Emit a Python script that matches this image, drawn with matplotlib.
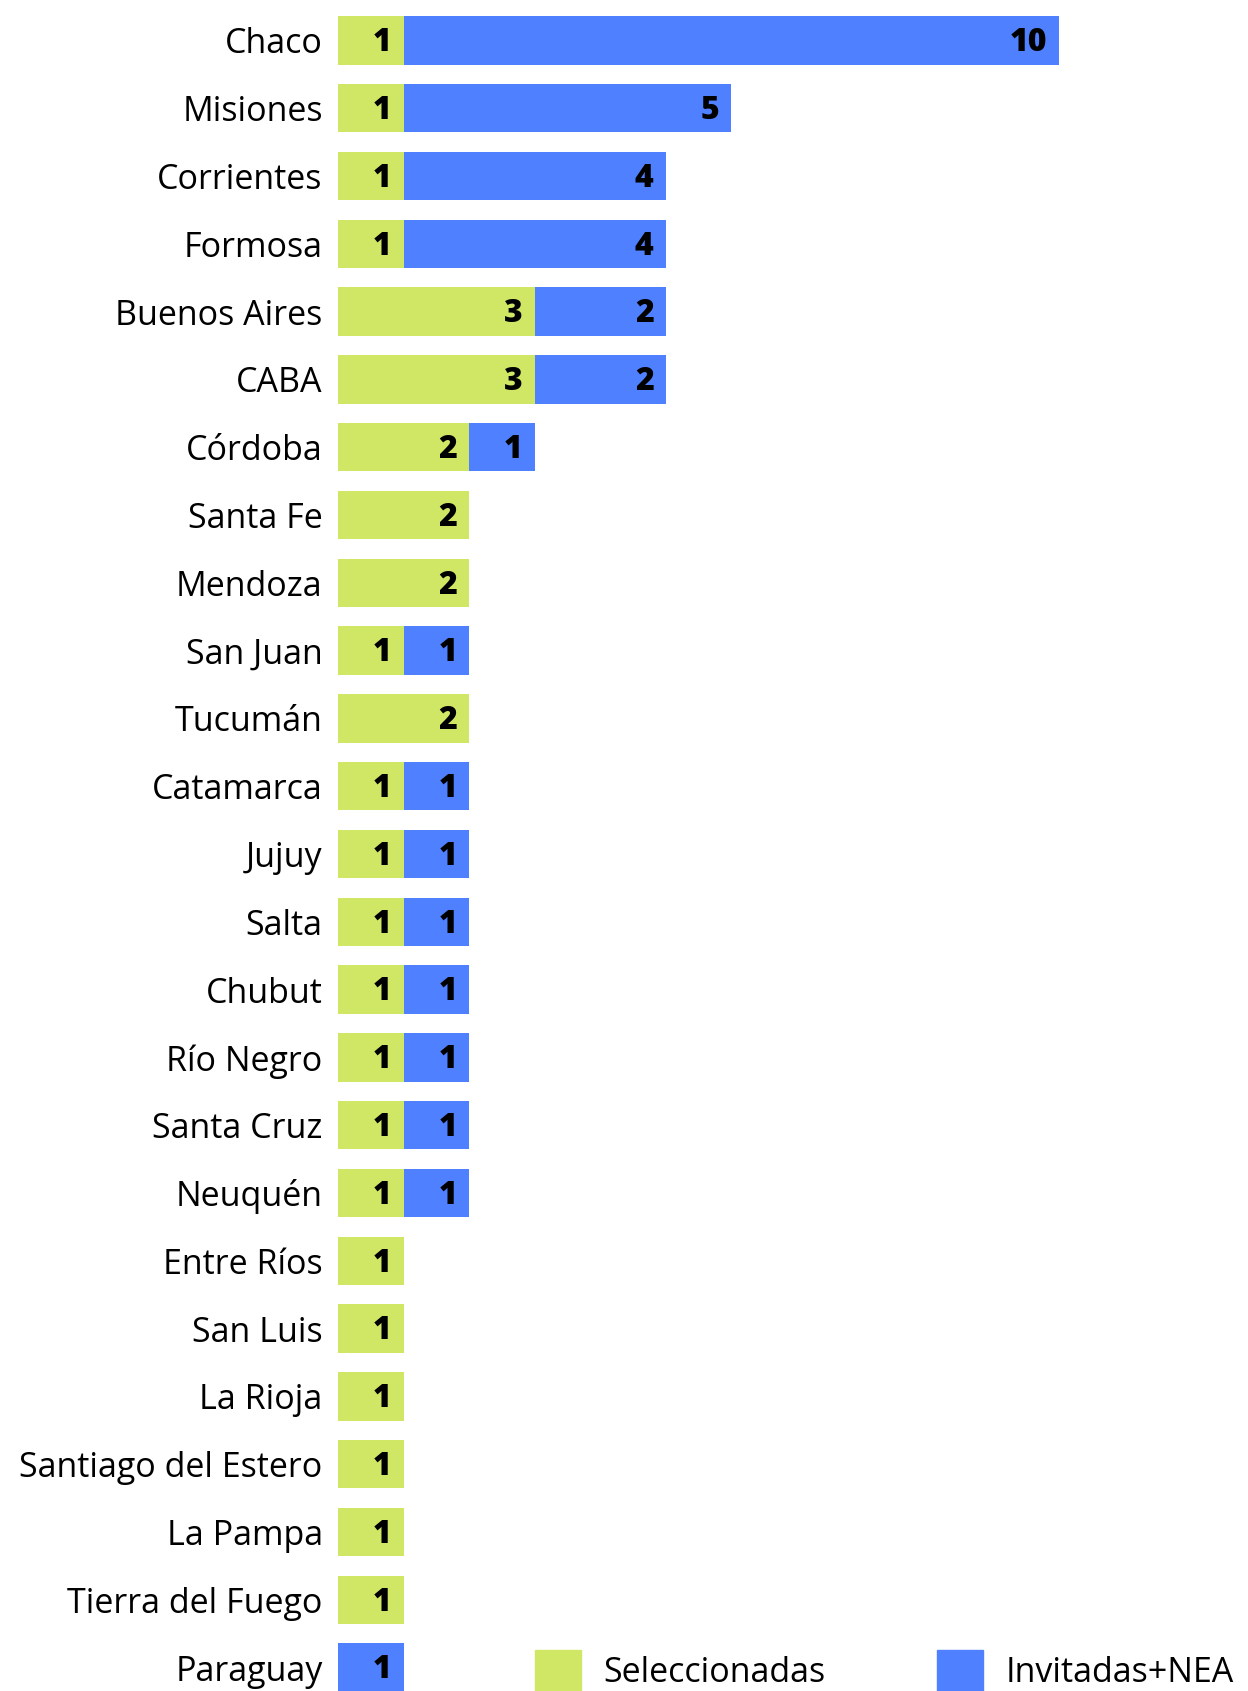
import numpy as np
import matplotlib.pyplot as plt
from matplotlib.patches import Rectangle

plt.rcParams['font.family'] = ['Open Sans', 'DejaVu Sans']

provincias = ['Chaco', 'Misiones', 'Corrientes', 'Formosa', 'Buenos Aires', 'CABA',
              'Córdoba', 'Santa Fe', 'Mendoza', 'San Juan', 'Tucumán', 'Catamarca',
              'Jujuy', 'Salta', 'Chubut', 'Río Negro', 'Santa Cruz', 'Neuquén',
              'Entre Ríos', 'San Luis', 'La Rioja', 'Santiago del Estero', 'La Pampa',
              'Tierra del Fuego', 'Paraguay']
seleccionadas = [1, 1, 1, 1, 3, 3, 2, 2, 2, 1, 2, 1, 1, 1, 1, 1, 1, 1, 1, 1, 1, 1, 1, 1, 0]
invitadas = [10, 5, 4, 4, 2, 2, 1, 0, 0, 1, 0, 1, 1, 1, 1, 1, 1, 1, 0, 0, 0, 0, 0, 0, 1]

verde = '#D0E765'
azul = '#4F80FF'

W, H = 1248, 1691
fig = plt.figure(figsize=(W / 100, H / 100), dpi=100)
ax = fig.add_axes([338 / W, 0, (W - 338) / W, 1])

y = np.arange(len(provincias))
sel = np.array(seleccionadas)
inv = np.array(invitadas)

ax.barh(y, sel, height=0.715, color=verde, label='Seleccionadas')
ax.barh(y, inv, left=sel, height=0.715, color=azul, label='Invitadas+NEA')

for i in range(len(provincias)):
    if sel[i] > 0:
        ax.text(sel[i] - 0.18, y[i] + 0.04, str(sel[i]), ha='right', va='center',
                fontsize=23, fontweight='heavy', color='black')
    if inv[i] > 0:
        ax.text(sel[i] + inv[i] - 0.18, y[i] + 0.04, str(inv[i]), ha='right', va='center',
                fontsize=23, fontweight='heavy', color='black')

ax.set_yticks(y)
ax.set_yticklabels(provincias, fontsize=24.5)
ax.tick_params(axis='y', length=0, pad=11)
ax.set_xticks([])
ax.set_xlim(0, (W - 338) / 65.5)
ax.set_ylim((H - 40.4) / 67.8, -40.4 / 67.8)
for s in ax.spines.values():
    s.set_visible(False)

# leyenda abajo, cortada por el borde como en el original
for x0, col, txt, tx in [(535, verde, 'Seleccionadas', 603), (937, azul, 'Invitadas+NEA', 1006)]:
    fig.add_artist(Rectangle((x0 / W, (H - 1696) / H), 46 / W, 46 / H,
                             transform=fig.transFigure, color=col))
    fig.text(tx / W, (H - 1673) / H, txt, fontsize=24.5, va='center', ha='left')

fig.savefig('out.png', dpi=100)
